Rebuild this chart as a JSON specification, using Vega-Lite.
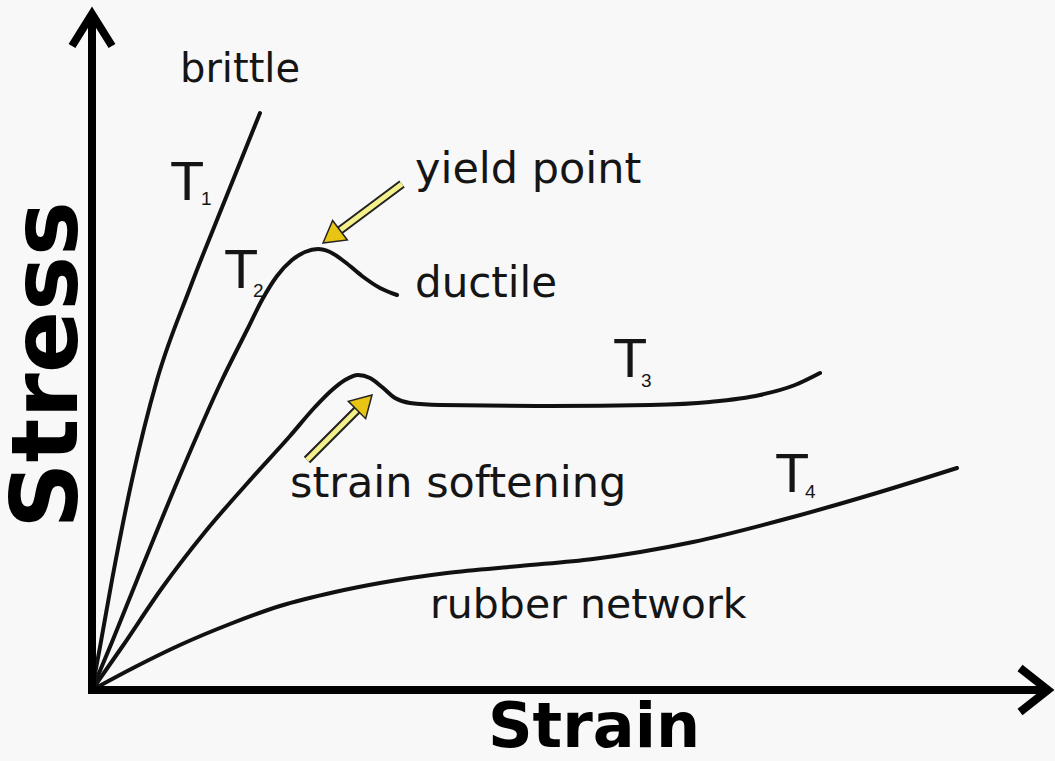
{
  "$schema": "https://vega.github.io/schema/vega-lite/v6.json",
  "width": 1055,
  "height": 761,
  "autosize": {"type": "none"},
  "padding": 0,
  "background": "#f8f8f8",
  "config": {"view": {"stroke": null}},
  "datasets": {
    "axes": [
      {"id": "y", "ord": 1, "strain": 0, "stress": -0.4},
      {"id": "y", "ord": 2, "strain": 0, "stress": 67.3},
      {"id": "x", "ord": 1, "strain": -0.4, "stress": 0},
      {"id": "x", "ord": 2, "strain": 95.3, "stress": 0},
      {"id": "yh", "ord": 1, "strain": -2.0, "stress": 64.4},
      {"id": "yh", "ord": 2, "strain": 0, "stress": 67.6},
      {"id": "yh", "ord": 3, "strain": 2.0, "stress": 64.4},
      {"id": "xh", "ord": 1, "strain": 92.8, "stress": 2.2},
      {"id": "xh", "ord": 2, "strain": 95.6, "stress": 0},
      {"id": "xh", "ord": 3, "strain": 92.8, "stress": -2.2}
    ],
    "curves": [
      {"curve": "T1", "ord": 1, "strain": 0, "stress": 0},
      {"curve": "T1", "ord": 2, "strain": 0.8, "stress": 4.3},
      {"curve": "T1", "ord": 3, "strain": 2.0, "stress": 11},
      {"curve": "T1", "ord": 4, "strain": 4.0, "stress": 21},
      {"curve": "T1", "ord": 5, "strain": 6.5, "stress": 31},
      {"curve": "T1", "ord": 6, "strain": 9.8, "stress": 40.2},
      {"curve": "T1", "ord": 7, "strain": 13.3, "stress": 49},
      {"curve": "T1", "ord": 8, "strain": 16.8, "stress": 57.7},
      {"curve": "T2", "ord": 1, "strain": 0, "stress": 0},
      {"curve": "T2", "ord": 2, "strain": 2.0, "stress": 4.8},
      {"curve": "T2", "ord": 3, "strain": 4.5, "stress": 11},
      {"curve": "T2", "ord": 4, "strain": 8.6, "stress": 21},
      {"curve": "T2", "ord": 5, "strain": 13.0, "stress": 31},
      {"curve": "T2", "ord": 6, "strain": 15.5, "stress": 36},
      {"curve": "T2", "ord": 7, "strain": 17.0, "stress": 39},
      {"curve": "T2", "ord": 8, "strain": 18.5, "stress": 41.4},
      {"curve": "T2", "ord": 9, "strain": 20.0, "stress": 43.0},
      {"curve": "T2", "ord": 10, "strain": 21.3, "stress": 43.8},
      {"curve": "T2", "ord": 11, "strain": 22.6, "stress": 44.1},
      {"curve": "T2", "ord": 12, "strain": 23.8, "stress": 43.8},
      {"curve": "T2", "ord": 13, "strain": 25.3, "stress": 42.8},
      {"curve": "T2", "ord": 14, "strain": 27.0, "stress": 41.4},
      {"curve": "T2", "ord": 15, "strain": 28.8, "stress": 40.2},
      {"curve": "T2", "ord": 16, "strain": 30.5, "stress": 39.5},
      {"curve": "T3", "ord": 1, "strain": 0, "stress": 0},
      {"curve": "T3", "ord": 2, "strain": 3.0, "stress": 4.3},
      {"curve": "T3", "ord": 3, "strain": 7.0, "stress": 10.2},
      {"curve": "T3", "ord": 4, "strain": 11.3, "stress": 15.8},
      {"curve": "T3", "ord": 5, "strain": 16.0, "stress": 21.2},
      {"curve": "T3", "ord": 6, "strain": 19.8, "stress": 25.4},
      {"curve": "T3", "ord": 7, "strain": 22.3, "stress": 28.3},
      {"curve": "T3", "ord": 8, "strain": 24.0, "stress": 30.0},
      {"curve": "T3", "ord": 9, "strain": 25.3, "stress": 31.0},
      {"curve": "T3", "ord": 10, "strain": 26.6, "stress": 31.5},
      {"curve": "T3", "ord": 11, "strain": 27.8, "stress": 31.2},
      {"curve": "T3", "ord": 12, "strain": 29.0, "stress": 30.3},
      {"curve": "T3", "ord": 13, "strain": 30.3, "stress": 29.2},
      {"curve": "T3", "ord": 14, "strain": 31.8, "stress": 28.7},
      {"curve": "T3", "ord": 15, "strain": 34.8, "stress": 28.5},
      {"curve": "T3", "ord": 16, "strain": 45.8, "stress": 28.4},
      {"curve": "T3", "ord": 17, "strain": 55.8, "stress": 28.5},
      {"curve": "T3", "ord": 18, "strain": 61.8, "stress": 28.8},
      {"curve": "T3", "ord": 19, "strain": 66.8, "stress": 29.5},
      {"curve": "T3", "ord": 20, "strain": 70.3, "stress": 30.5},
      {"curve": "T3", "ord": 21, "strain": 72.8, "stress": 31.7},
      {"curve": "T4", "ord": 1, "strain": 0, "stress": 0},
      {"curve": "T4", "ord": 2, "strain": 4.3, "stress": 2.3},
      {"curve": "T4", "ord": 3, "strain": 8.8, "stress": 4.5},
      {"curve": "T4", "ord": 4, "strain": 13.8, "stress": 6.6},
      {"curve": "T4", "ord": 5, "strain": 18.8, "stress": 8.4},
      {"curve": "T4", "ord": 6, "strain": 24.3, "stress": 9.8},
      {"curve": "T4", "ord": 7, "strain": 28.8, "stress": 10.7},
      {"curve": "T4", "ord": 8, "strain": 35.5, "stress": 11.7},
      {"curve": "T4", "ord": 9, "strain": 42.8, "stress": 12.4},
      {"curve": "T4", "ord": 10, "strain": 50.1, "stress": 13.1},
      {"curve": "T4", "ord": 11, "strain": 60.1, "stress": 14.8},
      {"curve": "T4", "ord": 12, "strain": 70.1, "stress": 17.3},
      {"curve": "T4", "ord": 13, "strain": 78.8, "stress": 19.8},
      {"curve": "T4", "ord": 14, "strain": 86.5, "stress": 22.2}
    ],
    "pointers": [
      {"id": "yield", "ord": 1, "strain": 31.0, "stress": 50.6},
      {"id": "yield", "ord": 2, "strain": 24.3, "stress": 45.6},
      {"id": "soft", "ord": 1, "strain": 21.5, "stress": 23.0},
      {"id": "soft", "ord": 2, "strain": 27.0, "stress": 28.5}
    ],
    "heads": [
      {"id": "yield", "strain": 23.95, "stress": 45.34, "angle": 233},
      {"id": "soft", "strain": 27.25, "stress": 28.75, "angle": 45}
    ],
    "labels": [
      {"text": "brittle", "strain": 8.8, "stress": 60.8, "size": 40},
      {"text": "yield point", "strain": 32.3, "stress": 50.7, "size": 43},
      {"text": "ductile", "strain": 32.3, "stress": 39.3, "size": 42},
      {"text": "strain softening", "strain": 19.8, "stress": 19.3, "size": 43},
      {"text": "rubber network", "strain": 33.8, "stress": 7.2, "size": 41}
    ],
    "tlabels": [
      {"text": "T", "strain": 7.8, "stress": 49.0, "size": 56},
      {"text": "T", "strain": 13.2, "stress": 40.2, "size": 56},
      {"text": "T", "strain": 52.1, "stress": 31.3, "size": 56},
      {"text": "T", "strain": 68.3, "stress": 19.8, "size": 56},
      {"text": "1", "strain": 10.9, "stress": 48.5, "size": 19},
      {"text": "2", "strain": 16.1, "stress": 39.3, "size": 19},
      {"text": "3", "strain": 54.9, "stress": 30.3, "size": 19},
      {"text": "4", "strain": 71.3, "stress": 19.2, "size": 19}
    ],
    "titles": [
      {"text": "Strain", "strain": 50.2, "stress": -5.7, "size": 62, "angle": 0},
      {"text": "Stress", "strain": -1.5, "stress": 32.5, "size": 92, "angle": 270}
    ]
  },
  "encoding": {
    "x": {"field": "strain", "type": "quantitative", "scale": {"domain": [-9.2, 96.3], "nice": false, "zero": false}, "axis": null},
    "y": {"field": "stress", "type": "quantitative", "scale": {"domain": [-7.1, 69], "nice": false, "zero": false}, "axis": null}
  },
  "layer": [
    {
      "data": {"name": "curves"},
      "mark": {"type": "line", "color": "#111111", "strokeWidth": 4, "interpolate": "monotone", "strokeCap": "round"},
      "encoding": {"detail": {"field": "curve"}, "order": {"field": "ord", "type": "quantitative"}}
    },
    {
      "data": {"name": "axes"},
      "mark": {"type": "line", "color": "#000000", "strokeWidth": 8, "strokeJoin": "miter", "strokeCap": "butt"},
      "encoding": {"detail": {"field": "id"}, "order": {"field": "ord", "type": "quantitative"}}
    },
    {
      "data": {"name": "pointers"},
      "mark": {"type": "line", "color": "#222222", "strokeWidth": 9, "strokeCap": "butt"},
      "encoding": {"detail": {"field": "id"}, "order": {"field": "ord", "type": "quantitative"}}
    },
    {
      "data": {"name": "pointers"},
      "mark": {"type": "line", "color": "#f4f08c", "strokeWidth": 5, "strokeCap": "butt"},
      "encoding": {"detail": {"field": "id"}, "order": {"field": "ord", "type": "quantitative"}}
    },
    {
      "data": {"name": "heads"},
      "mark": {"type": "point", "shape": "triangle-up", "size": 600, "filled": true, "fill": "#e8c414", "stroke": "#222222", "strokeWidth": 1.5, "opacity": 1},
      "encoding": {"angle": {"field": "angle", "type": "quantitative", "scale": null}}
    },
    {
      "data": {"name": "labels"},
      "mark": {"type": "text", "font": "DejaVu Sans", "align": "left", "baseline": "alphabetic", "color": "#151515"},
      "encoding": {"text": {"field": "text"}, "size": {"field": "size", "type": "quantitative", "scale": null}}
    },
    {
      "data": {"name": "tlabels"},
      "mark": {"type": "text", "font": "Liberation Sans", "align": "left", "baseline": "alphabetic", "color": "#151515"},
      "encoding": {"text": {"field": "text"}, "size": {"field": "size", "type": "quantitative", "scale": null}}
    },
    {
      "data": {"name": "titles"},
      "mark": {"type": "text", "font": "DejaVu Sans", "fontWeight": "bold", "align": "center", "baseline": "alphabetic", "color": "#000000"},
      "encoding": {
        "text": {"field": "text"},
        "size": {"field": "size", "type": "quantitative", "scale": null},
        "angle": {"field": "angle", "type": "quantitative", "scale": null}
      }
    }
  ]
}
